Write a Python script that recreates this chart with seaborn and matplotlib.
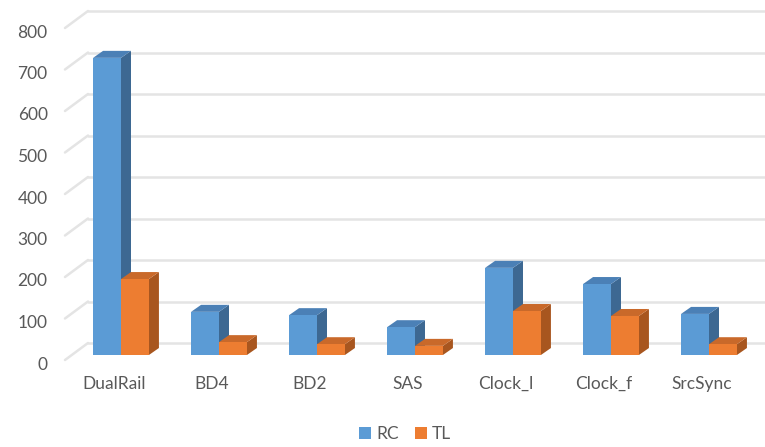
import matplotlib
matplotlib.use("Agg")
import matplotlib.pyplot as plt
import matplotlib.transforms as mtransforms
from matplotlib.patches import Polygon, Patch
from matplotlib.lines import Line2D
import seaborn as sns
import pandas as pd

schemes = ["DualRail", "BD4", "BD2", "SAS", "Clock_l", "Clock_f", "SrcSync"]
rc_values = [716, 104, 96, 67, 210, 171, 99]
tl_values = [183, 31, 26, 22, 106, 94, 26]
series = ["RC", "TL"]
y_ticks = [0, 100, 200, 300, 400, 500, 600, 700, 800]

front_colors = {"RC": "#5B9BD5", "TL": "#ED7D31"}
side_colors = {"RC": "#3D6892", "TL": "#A8561F"}
top_colors = {"RC": "#4B80B6", "TL": "#C9692A"}
grid_color = "#E4E4E4"
text_color = "#595959"

df = pd.DataFrame({
    "scheme": schemes * 2,
    "flow": ["RC"] * len(schemes) + ["TL"] * len(schemes),
    "value": rc_values + tl_values,
})

sns.set_theme(style="white")
plt.rcParams["font.family"] = ["Lato", "DejaVu Sans"]

W, H = 765, 447
fig = plt.figure(figsize=(W / 100, H / 100), dpi=100)
ax_left, ax_bottom, ax_w, ax_h = 65, 92, 700, 332
ax = fig.add_axes([ax_left / W, ax_bottom / H, ax_w / W, ax_h / H])

sns.barplot(data=df, x="scheme", y="value", hue="flow", order=schemes,
            hue_order=series, palette=front_colors, width=0.57,
            saturation=1, edgecolor="none", linewidth=0, legend=False, ax=ax)

ax.set_xlim(-0.5714, 6.5714)
ax.set_ylim(0, 800)
for s in ax.spines.values():
    s.set_visible(False)
ax.set_xlabel("")
ax.set_ylabel("")

# depth of the 3D extrusion, in data units (px -> data)
px_per_x = ax_w / (6.5714 + 0.5714)
px_per_y = ax_h / 800
DX = 10 / px_per_x
DY = 7 / px_per_y

# extrude each bar: side face and top face
n = len(schemes)
for i, p in enumerate(ax.patches):
    key = series[i // n]
    x0 = p.get_x()
    w = p.get_width()
    h = p.get_height()
    x1 = x0 + w
    order = (i % n) * 2 + (i // n)
    z = 3 + order * 0.1
    p.set_zorder(z)
    side = Polygon([(x1, 0), (x1, h), (x1 + DX, h + DY), (x1 + DX, DY)],
                   closed=True, facecolor=side_colors[key], edgecolor="none",
                   zorder=z - 0.02)
    top = Polygon([(x0, h), (x1, h), (x1 + DX, h + DY), (x0 + DX, h + DY)],
                  closed=True, facecolor=top_colors[key], edgecolor="none",
                  zorder=z - 0.01)
    ax.add_patch(side)
    ax.add_patch(top)

# back wall gridlines and the left wall diagonals
back_dx = 23 / ax_w
back_dy = 12 / ax_h
front_dy = 5 / ax_h
for v in y_ticks:
    yv = v / 800
    ax.add_line(Line2D([back_dx, 1.0], [yv + back_dy, yv + back_dy],
                       transform=ax.transAxes, color=grid_color, lw=1.8,
                       clip_on=False, zorder=0.5))
    ax.add_line(Line2D([0, back_dx], [yv - front_dy, yv + back_dy],
                       transform=ax.transAxes, color=grid_color, lw=1.8,
                       clip_on=False, zorder=0.5))

ax.set_yticks(y_ticks)
ax.set_yticklabels([str(v) for v in y_ticks])
ax.tick_params(axis="y", length=0, pad=12.5, labelsize=12.5, labelcolor=text_color)
ax.tick_params(axis="x", length=0, pad=15, labelsize=12.5, labelcolor=text_color)

y_shift = mtransforms.ScaledTranslation(0, -8 / 100, fig.dpi_scale_trans)
for lbl in ax.get_yticklabels():
    lbl.set_transform(lbl.get_transform() + y_shift)
x_shift = mtransforms.ScaledTranslation(-7 / 100, 0, fig.dpi_scale_trans)
for lbl in ax.get_xticklabels():
    lbl.set_transform(lbl.get_transform() + x_shift)

handles = [Patch(facecolor=front_colors[s], edgecolor="none", label=s) for s in series]
leg = fig.legend(handles=handles, loc="center", ncol=2,
                 bbox_to_anchor=(405 / W, 13 / H), frameon=False,
                 handlelength=0.7, handleheight=0.7, handletextpad=0.3,
                 columnspacing=0.9, fontsize=12.5)
for t in leg.get_texts():
    t.set_color(text_color)

fig.savefig("out.png", dpi=100, facecolor="white")
